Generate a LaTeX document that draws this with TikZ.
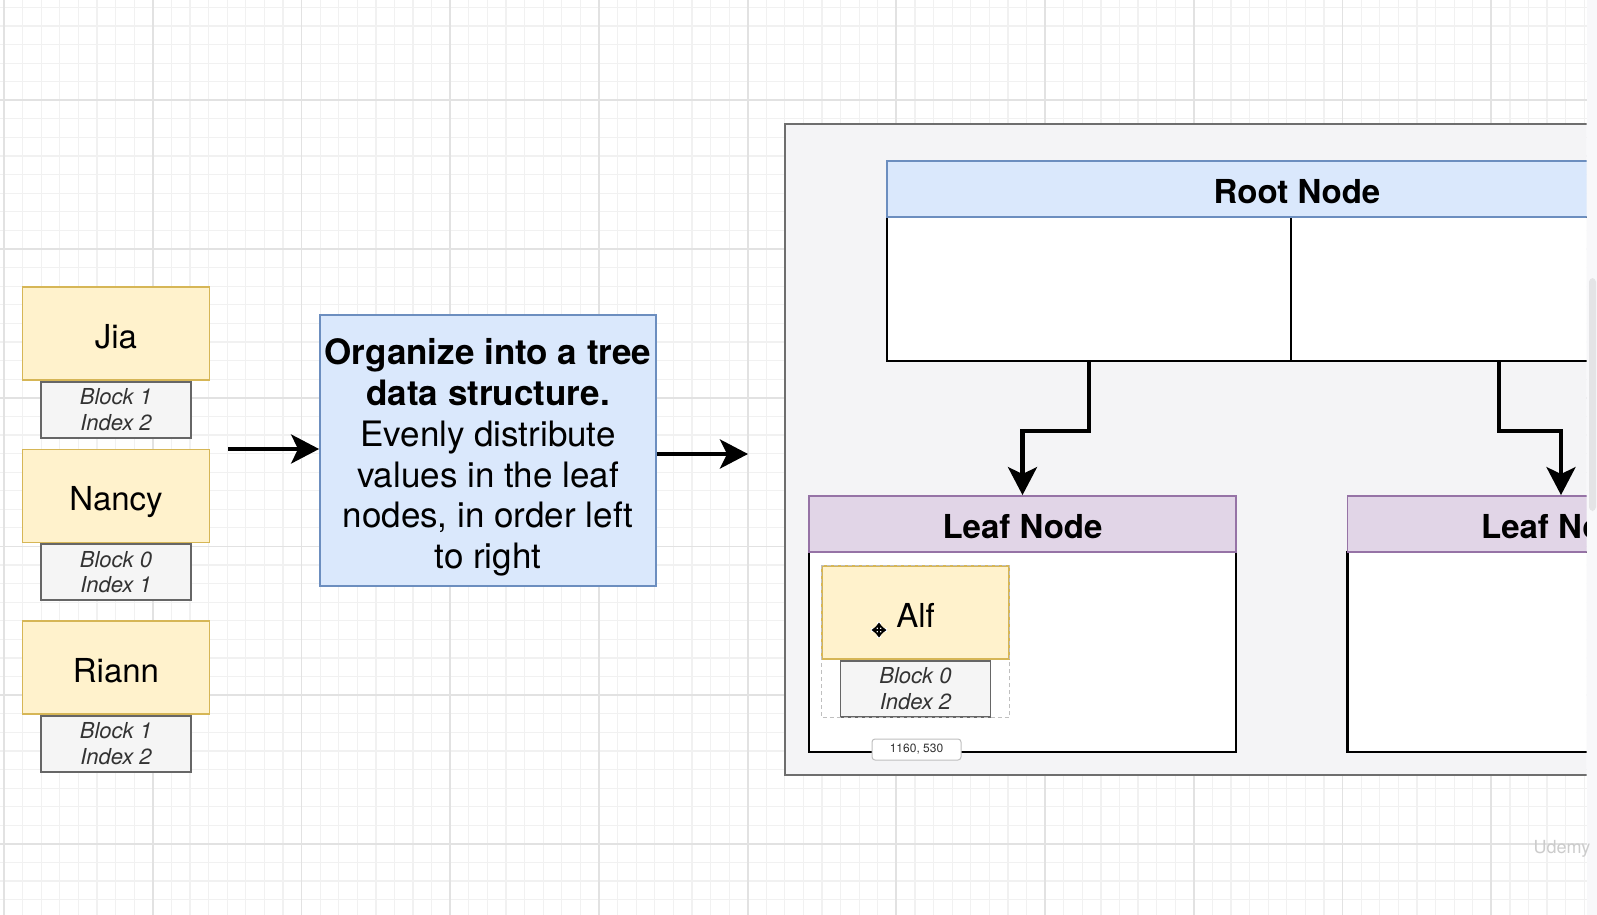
\documentclass[tikz,border=0pt]{standalone}
\usepackage{fontspec}
\setmainfont{TeX Gyre Heros}
\usetikzlibrary{arrows.meta,positioning}

\definecolor{itemfill}{HTML}{FFF2CC}
\definecolor{itemline}{HTML}{D6B656}
\definecolor{blockfill}{HTML}{F5F5F5}
\definecolor{blockline}{HTML}{666666}
\definecolor{blocktext}{HTML}{333333}
\definecolor{bluefill}{HTML}{DAE8FC}
\definecolor{blueline}{HTML}{6C8EBF}
\definecolor{leaffill}{HTML}{E1D5E7}
\definecolor{leafline}{HTML}{9673A6}
\definecolor{panelfill}{HTML}{F4F4F6}
\definecolor{panelline}{HTML}{6E6E6E}
\definecolor{gridminor}{HTML}{F1F1F1}
\definecolor{gridmajor}{HTML}{E2E2E2}
\definecolor{stripfill}{HTML}{F8F8FA}
\definecolor{thumbfill}{HTML}{E4E4E6}

\tikzset{
  itembox/.style={draw=itemline, fill=itemfill, line width=0.75pt, minimum width=93.5pt, minimum height=46.5pt, inner sep=0pt, text height=14.6pt, text depth=0pt, font=\fontsize{16.5}{19}\selectfont},
  blockbox/.style={draw=blockline, fill=blockfill, line width=0.9pt, minimum width=75pt, minimum height=28pt, inner sep=0pt, align=center, text=blocktext, font=\fontsize{11}{12.75}\selectfont\itshape},
  orgbox/.style={draw=blueline, fill=bluefill, line width=0.9pt, minimum width=168pt, minimum height=135.5pt, inner sep=0pt},
  orgtext/.style={align=center, inner sep=0pt, font=\fontsize{17.5}{20.35}\selectfont},
  headbox/.style={line width=0.9pt, minimum height=28pt, inner sep=0pt, text height=14.6pt, text depth=0pt, font=\fontsize{16.5}{19}\selectfont\bfseries},
  cellbox/.style={draw=black, fill=white, line width=1.1pt, inner sep=0pt},
  flow/.style={line width=2.2pt, -{Stealth[length=14pt,width=14.5pt,inset=3.5pt]}},
  selbox/.style={draw=black!25, line width=0.4pt, dash pattern=on 2pt off 1.5pt},
  tipbox/.style={draw=black!25, fill=white, rounded corners=1.5pt, line width=0.5pt, minimum width=44.5pt, minimum height=10.5pt, inner sep=0pt, font=\fontsize{6}{7}\selectfont, text=black!80},
  moveicon/.style={line width=0.8pt, {Triangle[length=2.6pt,width=3.8pt]}-{Triangle[length=2.6pt,width=3.8pt]}}
}

\begin{document}
\begin{tikzpicture}[x=0.5pt, y=-0.5pt]
  \useasboundingbox (0,0) rectangle (1597,915);

  % Canvas grid
  \fill[white] (0,0) rectangle (1597,915);
  \foreach \k in {0,...,85}
    \draw[gridminor, line width=0.6pt] ({4.1+\k*18.59},0) -- ++(0,915);
  \foreach \k in {0,...,48}
    \draw[gridminor, line width=0.6pt] (0,{7.35+\k*18.59}) -- ++(1597,0);
  \foreach \k in {0,...,10}
    \draw[gridmajor, line width=0.9pt] ({4.1+\k*148.7},0) -- ++(0,915);
  \foreach \k in {0,...,5}
    \draw[gridmajor, line width=0.9pt] (0,{100.3+\k*148.7}) -- ++(1597,0);

  % Scroll strip on the right
  \fill[stripfill] (1586.5,0) rectangle (1597,915);
  \fill[thumbfill, rounded corners=2pt] (1589,278) rectangle (1596,511);

  % Records on the left
  \node[itembox] (jia) at (116,333.5) {Jia};
  \node[blockbox, below=0pt of jia] (jiablk) {Block 1\\Index 2};
  \node[itembox] (nancy) at (116,496) {Nancy};
  \node[blockbox, below=0pt of nancy] (nancyblk) {Block 0\\Index 1};
  \node[itembox] (riann) at (116,667.5) {Riann};
  \node[blockbox, below=0pt of riann] (riannblk) {Block 1\\Index 2};

  % Middle step
  \node[orgbox] (org) at (488,450.5) {};
  \node[orgtext] (orgtxt) at ([yshift=-3.5pt]org.center) {%
    \textbf{Organize into a tree}\\
    \textbf{data structure.}\\
    Evenly distribute\\
    values in the leaf\\
    nodes, in order left\\
    to right};

  \coordinate (inTail) at (228,449);
  \coordinate (outHead) at (748,454);
  \draw[flow] (inTail) -- (inTail -| org.west);
  \draw[flow] (outHead -| org.east) -- (outHead);

  % Tree panel, cut at the page edge
  \begin{scope}
    \clip (0,0) rectangle (1586.5,915);
    \draw[fill=panelfill, draw=panelline, line width=1.1pt] (785,124) rectangle (1800,775);

    % Root node
    \node[cellbox, minimum width=202pt, minimum height=72pt] (rootL) at (1089,289) {};
    \node[cellbox, minimum width=208pt, minimum height=72pt] (rootR) at (1499,289) {};
    \node[headbox, draw=blueline, fill=bluefill, minimum width=410pt] (root) at (1297,189) {Root Node};

    % Leaf nodes
    \node[cellbox, minimum width=213.5pt, minimum height=100pt] (leafAbody) at (1022.5,652) {};
    \node[headbox, draw=leafline, fill=leaffill, minimum width=213.5pt] (leafA) at (1022.5,524) {Leaf Node};
    \node[cellbox, minimum width=213.5pt, minimum height=100pt] (leafBbody) at (1561,652) {};
    \node[headbox, draw=leafline, fill=leaffill, minimum width=213.5pt] (leafB) at (1561,524) {Leaf Node};

    \draw[flow] (rootL.south) -- ++(0,69) -| (leafA.north);
    \draw[flow] (rootR.south) -- ++(0,69) -| (leafB.north);

    % Record being dragged
    \node[itembox] (alf) at (915.5,612.5) {Alf};
    \node[blockbox, below=0pt of alf] (alfblk) {Block 0\\Index 2};
    \draw[selbox] (alf.north west) rectangle (alf.east |- alfblk.south);

    \draw[white, line width=2pt] (871,630) -- (887,630) (879,622) -- (879,638);
    \draw[moveicon] (871.5,630) -- (886.5,630);
    \draw[moveicon] (879,622.5) -- (879,637.5);

    \node[tipbox] (coords) at (916.5,749.5) {1160, 530};
  \end{scope}

  % Watermark
  \node[text=black!20, font=\fontsize{9}{10}\selectfont] (mark) at (1562,849) {Udemy};
\end{tikzpicture}
\end{document}
